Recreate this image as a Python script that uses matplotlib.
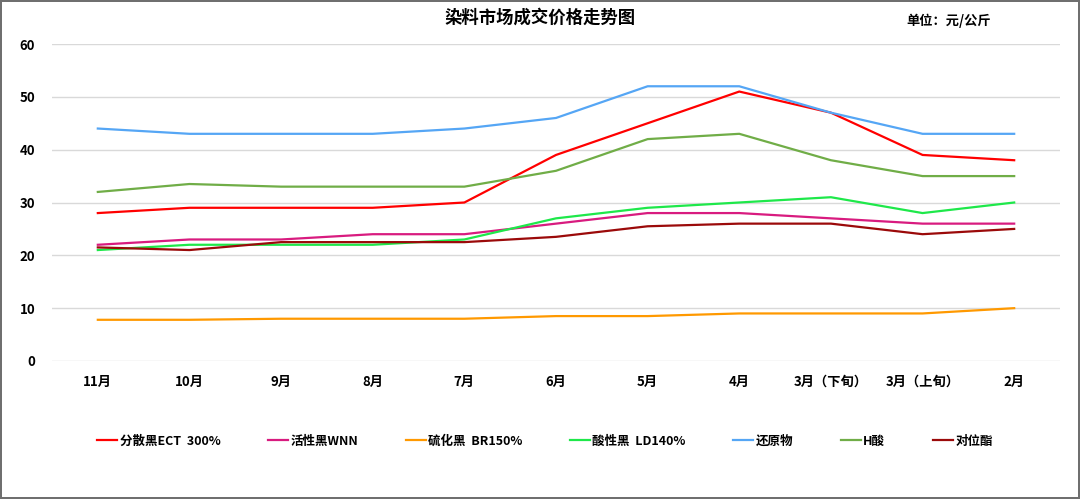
import matplotlib
matplotlib.use("Agg")
import matplotlib.pyplot as plt

plt.rcParams["font.family"] = ["Noto Sans CJK SC", "DejaVu Sans"]

months = ["11月", "10月", "9月", "8月", "7月", "6月", "5月", "4月",
          "3月（下旬）", "3月（上旬）", "2月"]

disperse_black = [28, 29, 29, 29, 30, 39, 45, 51, 47, 39, 38]
reactive_black = [22, 23, 23, 24, 24, 26, 28, 28, 27, 26, 26]
sulphur_black = [7.8, 7.8, 8, 8, 8, 8.5, 8.5, 9, 9, 9, 10]
acid_black = [21, 22, 22, 22, 23, 27, 29, 30, 31, 28, 30]
reduced = [44, 43, 43, 43, 44, 46, 52, 52, 47, 43, 43]
h_acid = [32, 33.5, 33, 33, 33, 36, 42, 43, 38, 35, 35]
para_ester = [21.5, 21, 22.5, 22.5, 22.5, 23.5, 25.5, 26, 26, 24, 25]

series = [
    ("分散黑ECT  300%", disperse_black, "#ff0000"),
    ("活性黑WNN", reactive_black, "#d81b7f"),
    ("硫化黑  BR150%", sulphur_black, "#ff9900"),
    ("酸性黑  LD140%", acid_black, "#1ee84a"),
    ("还原物", reduced, "#55a6f5"),
    ("H酸", h_acid, "#70ad47"),
    ("对位酯", para_ester, "#9b0a0a"),
]

fig = plt.figure(figsize=(10.8, 4.99), dpi=100)
fig.patch.set_edgecolor("#6f6f6f")
fig.patch.set_linewidth(1.5)
ax = fig.add_axes([52 / 1080, 1 - 361 / 499, 1008 / 1080, 317 / 499])

x = range(len(months))
for name, vals, color in series:
    ax.plot(x, vals, color=color, lw=1.6, label=name)

ax.set_ylim(0, 60)
ax.set_yticks(range(0, 61, 10))
ax.set_xlim(-0.5, len(months) - 0.5)
ax.set_xticks(list(x))
ax.set_xticklabels(months)
ax.grid(axis="y", color="#d9d9d9", lw=1)
ax.set_axisbelow(True)
for s in ax.spines.values():
    s.set_visible(False)
ax.tick_params(length=0, labelsize=9.5, pad=10)
ax.tick_params(axis="y", pad=12)
for lab in ax.get_xticklabels() + ax.get_yticklabels():
    lab.set_fontweight("bold")

fig.text(540 / 1080, 1 - 18 / 499, "染料市场成交价格走势图", ha="center", va="center",
         fontsize=12.5, fontweight="bold")
fig.text(949 / 1080, 1 - 21 / 499, "单位：元/公斤", ha="center", va="center",
         fontsize=9.5, fontweight="bold")

fig.legend(loc="center", bbox_to_anchor=(545 / 1080, 1 - 441 / 499), ncol=7,
           frameon=False, prop={"size": 9, "weight": "bold"},
           handlelength=1.6, handletextpad=0.2, columnspacing=3.8)

fig.savefig("out.png", dpi=100)
